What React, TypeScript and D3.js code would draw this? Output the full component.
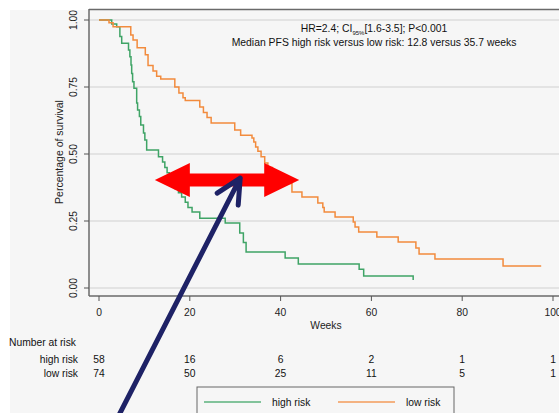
// Curva de Kaplan-Meier: PFS por grupo de riesgo, con tabla de número en riesgo
import { useRef, useEffect } from 'react'
import * as d3 from 'd3'

// Pasos de la curva: [semana, supervivencia después del evento]
const highRisk: [number, number][] = [
  [0, 1], [2.8, 0.985], [3.9, 0.975], [4.6, 0.938], [5.0, 0.913], [6.5, 0.888], [6.8, 0.863],
  [7.05, 0.832], [7.2, 0.8], [7.4, 0.77], [7.7, 0.745], [8.3, 0.69], [8.5, 0.664], [8.9, 0.64],
  [9.2, 0.608], [9.8, 0.578], [10.1, 0.552], [10.5, 0.515], [13.1, 0.49], [14.0, 0.47],
  [14.5, 0.45], [15.0, 0.43], [15.5, 0.41], [16.0, 0.39], [16.8, 0.37], [17.5, 0.355],
  [18.2, 0.34], [19.0, 0.32], [19.6, 0.3], [20.5, 0.284], [22.2, 0.26], [27.8, 0.243],
  [31.0, 0.205], [31.8, 0.17], [32.4, 0.134], [41.0, 0.112], [43.9, 0.09], [57.3, 0.07],
  [58.3, 0.045], [69.2, 0.03]
]
const highRiskEnd = 69.2

const lowRisk: [number, number][] = [
  [0, 1], [2.2, 0.99], [3.1, 0.975], [7.0, 0.944], [7.5, 0.925], [8.4, 0.896], [10.2, 0.87],
  [10.8, 0.83], [11.9, 0.81], [12.7, 0.79], [13.6, 0.78], [16.7, 0.75], [17.6, 0.728],
  [18.5, 0.71], [19.0, 0.7], [22.2, 0.675], [23.0, 0.655], [23.8, 0.636], [24.7, 0.616],
  [29.9, 0.59], [31.2, 0.57], [33.7, 0.56], [34.1, 0.545], [34.5, 0.526], [35.0, 0.51],
  [35.7, 0.49], [36.5, 0.466], [37.2, 0.45], [38.2, 0.43], [39.5, 0.41], [41.0, 0.39],
  [42.5, 0.358], [44.7, 0.34], [48.2, 0.317], [49.3, 0.3], [49.6, 0.284], [52.0, 0.265],
  [56.0, 0.246], [56.4, 0.228], [57.2, 0.209], [61.2, 0.19], [65.9, 0.172], [69.8, 0.149],
  [70.5, 0.127], [74.0, 0.108], [89.0, 0.082]
]
const lowRiskEnd = 97.4

const xTicks = [0, 20, 40, 60, 80, 100]
const yTicks = [0, 0.25, 0.5, 0.75, 1]
const atRiskHigh = [58, 16, 6, 2, 1, 1]
const atRiskLow = [74, 50, 25, 11, 5, 1]
const groups = ['high risk', 'low risk']

const GREEN = '#3fa466'
const ORANGE = '#f28b3d'
const FONT = '"Liberation Sans", Arial, sans-serif'

export default function App() {
  const svgRef = useRef<SVGSVGElement>(null)

  useEffect(() => {
    const width = 559
    const height = 413
    const svg = d3.select(svgRef.current).attr('width', width).attr('height', height)
    svg.selectAll('*').remove()

    const x = d3.scaleLinear().domain([0, 100]).range([99, 553])
    const y = d3.scaleLinear().domain([0, 1]).range([288, 20])
    const axisLeft = 89
    const axisBottom = 296

    // Fondo
    svg.append('rect').attr('width', width).attr('height', height).attr('fill', '#fff')
    svg.append('rect').attr('x', 10).attr('y', 10).attr('width', width - 10).attr('height', height - 10)
      .attr('fill', '#f6f6f6')

    // Rejilla
    svg.selectAll('line.grid').data(yTicks).join('line')
      .attr('class', 'grid')
      .attr('x1', axisLeft + 1).attr('x2', width)
      .attr('y1', d => y(d)).attr('y2', d => y(d))
      .attr('stroke', '#e3e3e3').attr('stroke-width', 2)

    // Marco
    svg.append('line').attr('x1', axisLeft).attr('x2', width).attr('y1', 9.5).attr('y2', 9.5)
      .attr('stroke', '#6a6a6a').attr('stroke-width', 1.5)
    svg.append('line').attr('x1', axisLeft).attr('x2', axisLeft).attr('y1', 9).attr('y2', axisBottom)
      .attr('stroke', '#6a6a6a').attr('stroke-width', 1.5)
    svg.append('line').attr('x1', axisLeft).attr('x2', width).attr('y1', axisBottom).attr('y2', axisBottom)
      .attr('stroke', '#6a6a6a').attr('stroke-width', 1.5)

    // Eje Y
    svg.selectAll('line.ytick').data(yTicks).join('line')
      .attr('class', 'ytick')
      .attr('x1', axisLeft - 5).attr('x2', axisLeft)
      .attr('y1', d => y(d)).attr('y2', d => y(d))
      .attr('stroke', '#555').attr('stroke-width', 1)
    svg.selectAll('text.ylab').data(yTicks).join('text')
      .attr('class', 'ylab')
      .attr('transform', d => `translate(77, ${y(d)}) rotate(-90)`)
      .attr('text-anchor', 'middle')
      .attr('font-family', FONT).attr('font-size', '10.3px').attr('fill', '#222')
      .text(d => d3.format('.2f')(d))
    svg.append('text')
      .attr('transform', `translate(63, ${(y(0) + y(1)) / 2 - 2}) rotate(-90)`)
      .attr('text-anchor', 'middle')
      .attr('font-family', FONT).attr('font-size', '10.5px').attr('fill', '#222')
      .text('Percentage of survival')

    // Eje X
    svg.selectAll('line.xtick').data(xTicks).join('line')
      .attr('class', 'xtick')
      .attr('x1', d => x(d)).attr('x2', d => x(d))
      .attr('y1', axisBottom).attr('y2', axisBottom + 5)
      .attr('stroke', '#555').attr('stroke-width', 1)
    svg.selectAll('text.xlab').data(xTicks).join('text')
      .attr('class', 'xlab')
      .attr('x', d => x(d)).attr('y', 316)
      .attr('text-anchor', 'middle')
      .attr('font-family', FONT).attr('font-size', '10.3px').attr('fill', '#222')
      .text(d => d)
    svg.append('text')
      .attr('x', (x(0) + x(100)) / 2).attr('y', 329)
      .attr('text-anchor', 'middle')
      .attr('font-family', FONT).attr('font-size', '10.3px').attr('fill', '#222')
      .text('Weeks')

    // Curvas escalonadas
    const line = d3.line<[number, number]>()
      .x(d => x(d[0])).y(d => y(d[1]))
      .curve(d3.curveStepAfter)
    const curves = [
      { data: [...highRisk, [highRiskEnd, highRisk[highRisk.length - 1][1]] as [number, number]], color: GREEN },
      { data: [...lowRisk, [lowRiskEnd, lowRisk[lowRisk.length - 1][1]] as [number, number]], color: ORANGE }
    ]
    svg.selectAll('path.km').data(curves).join('path')
      .attr('class', 'km')
      .attr('d', d => line(d.data))
      .attr('fill', 'none')
      .attr('stroke', d => d.color)
      .attr('stroke-width', 1.5)

    // Anotación superior
    const note = svg.append('text')
      .attr('x', 374).attr('y', 32)
      .attr('text-anchor', 'middle')
      .attr('font-family', FONT).attr('font-size', '10.4px').attr('fill', '#111')
    note.append('tspan').text('HR=2.4; CI')
    note.append('tspan').attr('font-size', '6px').attr('dy', 2.5).text('95%')
    note.append('tspan').attr('dy', -2.5).text('[1.6-3.5]; P<0.001')
    svg.append('text')
      .attr('x', 374).attr('y', 46)
      .attr('text-anchor', 'middle')
      .attr('font-family', FONT).attr('font-size', '10.4px').attr('fill', '#111')
      .text('Median PFS high risk versus low risk: 12.8 versus 35.7 weeks')

    // Número en riesgo
    svg.append('text')
      .attr('x', 9).attr('y', 346)
      .attr('font-family', FONT).attr('font-size', '10.3px').attr('fill', '#111')
      .text('Number at risk')
    const rows = [atRiskHigh, atRiskLow]
    rows.forEach((row, i) => {
      const yy = 363 + i * 14
      svg.append('text')
        .attr('x', 78).attr('y', yy).attr('text-anchor', 'end')
        .attr('font-family', FONT).attr('font-size', '10.3px').attr('fill', '#111')
        .text(groups[i])
      svg.selectAll(`text.risk${i}`).data(row).join('text')
        .attr('class', `risk${i}`)
        .attr('x', (d, j) => x(xTicks[j])).attr('y', yy)
        .attr('text-anchor', 'middle')
        .attr('font-family', FONT).attr('font-size', '10.3px').attr('fill', '#111')
        .text(d => d)
    })

    // Leyenda
    svg.append('rect')
      .attr('x', 197).attr('y', 387).attr('width', 257).attr('height', 40)
      .attr('fill', '#f6f6f6').attr('stroke', '#666').attr('stroke-width', 1)
    const legendItems = [
      { label: groups[0], color: GREEN, x0: 204 },
      { label: groups[1], color: ORANGE, x0: 338 }
    ]
    legendItems.forEach(it => {
      svg.append('line')
        .attr('x1', it.x0).attr('x2', it.x0 + 57).attr('y1', 402).attr('y2', 402)
        .attr('stroke', it.color).attr('stroke-width', 1.4).attr('stroke-opacity', 0.85)
      svg.append('text')
        .attr('x', it.x0 + 68).attr('y', 405.5)
        .attr('font-family', FONT).attr('font-size', '10.3px').attr('fill', '#111')
        .text(it.label)
    })

    // Flecha roja doble (en coordenadas de datos)
    const ax0 = x(12.3), ax1 = x(44.1), ay = y(0.403)
    const headL = 35, headH = 17, shaftH = 6.5
    svg.append('path')
      .attr('d', [
        `M${ax0},${ay}`,
        `L${ax0 + headL},${ay - headH}`,
        `L${ax0 + headL},${ay - shaftH}`,
        `L${ax1 - headL},${ay - shaftH}`,
        `L${ax1 - headL},${ay - headH}`,
        `L${ax1},${ay}`,
        `L${ax1 - headL},${ay + headH}`,
        `L${ax1 - headL},${ay + shaftH}`,
        `L${ax0 + headL},${ay + shaftH}`,
        `L${ax0 + headL},${ay + headH}`,
        'Z'
      ].join(''))
      .attr('fill', '#ff0000')

    // Flecha azul marino
    const tipX = x(31.1), tipY = y(0.41)
    const tailX = x(0.6), tailY = y(-0.6)
    svg.append('path')
      .attr('d', `M${tailX},${tailY}L${tipX},${tipY}M${tipX - 23},${tipY + 15}L${tipX},${tipY}L${tipX - 2},${tipY + 27}`)
      .attr('fill', 'none')
      .attr('stroke', '#1e2266')
      .attr('stroke-width', 5)
      .attr('stroke-linecap', 'round')
      .attr('stroke-linejoin', 'round')
  }, [])

  return <svg ref={svgRef} style={{ position: 'absolute', left: 0, top: 0, display: 'block' }} />
}
